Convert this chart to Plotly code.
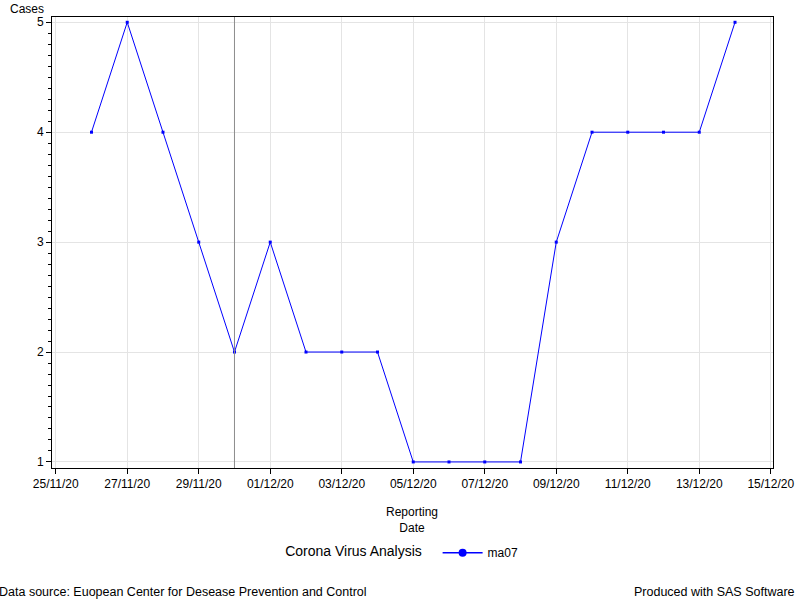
import plotly.graph_objects as go

dates = ["2020-11-26", "2020-11-27", "2020-11-28", "2020-11-29", "2020-11-30",
         "2020-12-01", "2020-12-02", "2020-12-03", "2020-12-04", "2020-12-05",
         "2020-12-06", "2020-12-07", "2020-12-08", "2020-12-09", "2020-12-10",
         "2020-12-11", "2020-12-12", "2020-12-13", "2020-12-14"]
ma07 = [4, 5, 4, 3, 2, 3, 2, 2, 2, 1, 1, 1, 1, 3, 4, 4, 4, 4, 5]
ref_date = "2020-11-30"

FONT = "Liberation Sans, Arial, sans-serif"

fig = go.Figure()
fig.add_trace(go.Scatter(
    x=dates, y=ma07, mode="lines+markers", name="ma07",
    line=dict(color="#0000ff", width=1),
    marker=dict(color="#0000ff", size=3, symbol="square"),
    showlegend=False,
))
fig.add_trace(go.Scatter(
    x=[None], y=[None], mode="lines+markers", name="ma07",
    line=dict(color="#0000ff", width=1.5),
    marker=dict(color="#0000ff", size=8, symbol="circle"),
    showlegend=True,
))

fig.add_shape(type="line", xref="x", yref="paper", x0=ref_date, x1=ref_date,
              y0=0, y1=1, line=dict(color="#8c8c8c", width=1), layer="above")

fig.update_layout(
    width=800, height=600,
    margin=dict(l=52, r=27, t=17, b=132, autoexpand=False),
    paper_bgcolor="white", plot_bgcolor="white",
    font=dict(family=FONT, size=12, color="black"),
    showlegend=True,
    legend=dict(orientation="h", x=0.487, xanchor="center", y=-0.188, yanchor="middle",
                title=dict(text="Corona Virus Analysis  ", side="left"),
                font=dict(family=FONT, size=12), itemwidth=40),
    xaxis=dict(
        type="date", automargin=False,
        range=["2020-11-24 21:30", "2020-12-15 01:30"],
        tick0="2020-11-25", dtick=2 * 86400000,
        tickformat="%d/%m/%y",
        showgrid=True, gridcolor="#e4e4e4", gridwidth=1,
        showline=True, linecolor="black", linewidth=1, mirror=True,
        ticks="outside", ticklen=5, tickcolor="black",
        zeroline=False,
    ),
    yaxis=dict(
        automargin=False,
        range=[0.945, 5.048],
        tick0=1, dtick=1,
        showgrid=True, gridcolor="#e4e4e4", gridwidth=1,
        showline=True, linecolor="black", linewidth=1, mirror=True,
        ticks="outside", ticklen=5, tickcolor="black",
        minor=dict(dtick=0.1, ticklen=3, ticks="outside", tickcolor="black", showgrid=False),
        zeroline=False,
    ),
    annotations=[
        dict(text="Cases", xref="paper", yref="paper", x=-0.061, y=1.0, xanchor="left",
             yanchor="bottom", yshift=-1, showarrow=False, font=dict(size=12)),
        dict(text="Reporting<br>Date", xref="paper", yref="paper", x=0.4995, y=-0.078,
             xanchor="center", yanchor="top", showarrow=False, font=dict(size=12)),
        dict(text="Data source: Euopean Center for Desease Prevention and Control",
             xref="paper", yref="paper", x=-0.0762, y=-0.274, xanchor="left", yanchor="middle",
             showarrow=False, font=dict(size=12.5)),
        dict(text="Produced with SAS Software", xref="paper", yref="paper", x=1.033,
             y=-0.274, xanchor="right", yanchor="middle", showarrow=False, font=dict(size=12.5)),
    ],
)

fig.write_html("out.html", config={"displayModeBar": False},
               post_script="document.body.style.margin='0';")
